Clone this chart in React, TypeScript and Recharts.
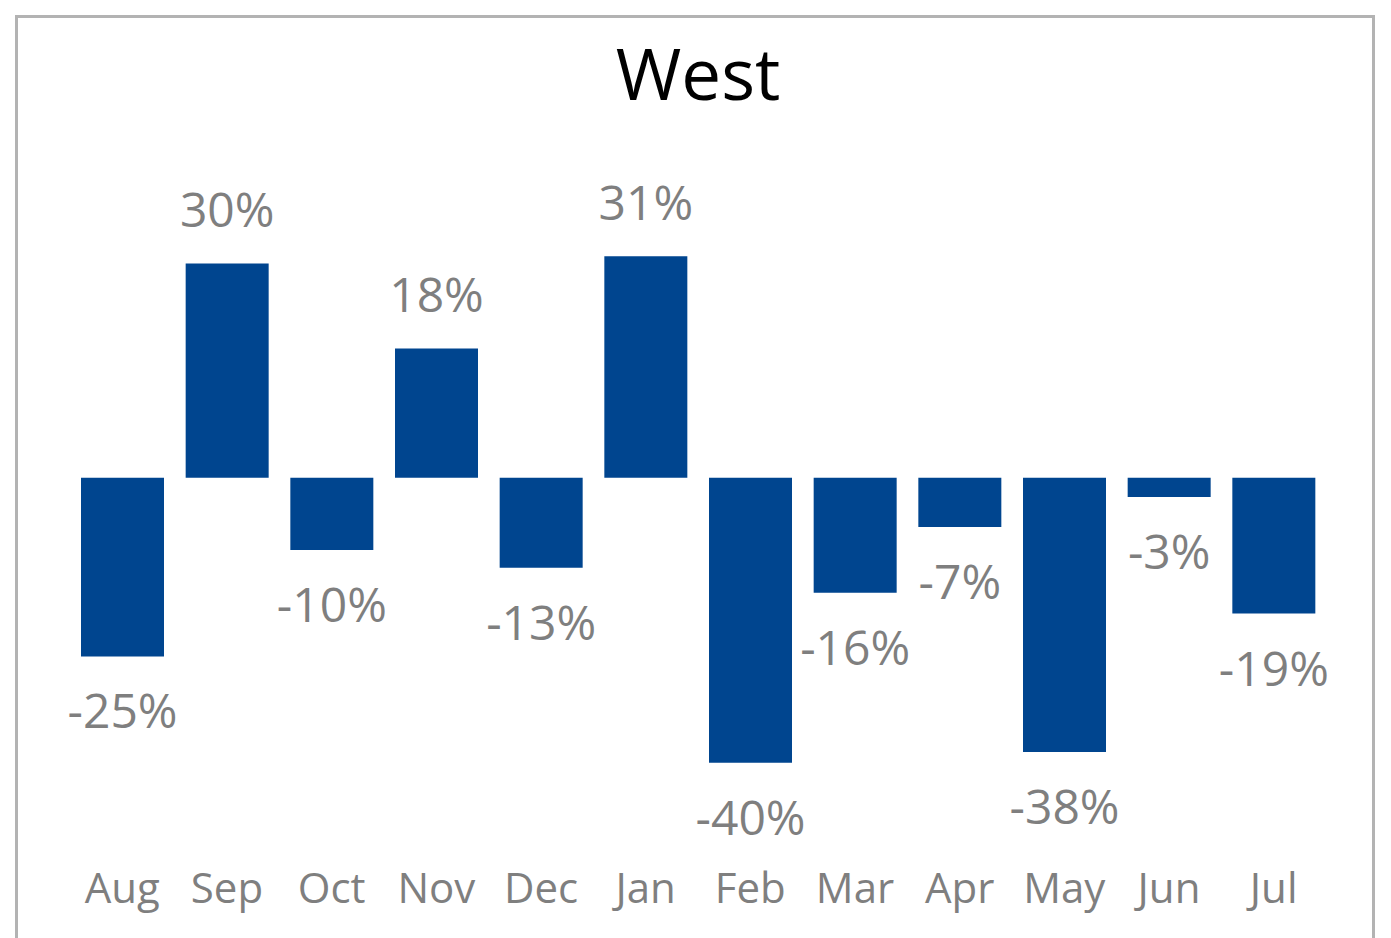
import React from "react";
import { BarChart, Bar, XAxis, YAxis, LabelList } from "recharts";

const months = ["Aug", "Sep", "Oct", "Nov", "Dec", "Jan", "Feb", "Mar", "Apr", "May", "Jun", "Jul"];
const changes = [-0.25, 0.3, -0.101, 0.181, -0.126, 0.31, -0.399, -0.161, -0.069, -0.384, -0.027, -0.19];
const title = "West";

const data = months.map((m, i) => ({ month: m, value: changes[i] }));

const FONT = "'Open Sans', 'Noto Sans', sans-serif";
const GRAY = "#7F7F7F";
const BLUE = "#00458F";

const ValueLabel = (props: any) => {
  const { x, y, width, height, value } = props;
  const top = Math.min(y, y + height);
  const bottom = Math.max(y, y + height);
  const cx = x + width / 2;
  const text = `${Math.round(value * 100)}%`;
  const baseline = value >= 0 ? top - 36 : bottom + 72;
  return (
    <text x={cx} y={baseline} textAnchor="middle" fontSize={48} fill={GRAY} fontFamily={FONT}>
      {text}
    </text>
  );
};

const MonthTick = (props: any) => {
  const { x, y, payload } = props;
  return (
    <text x={x} y={y + 68} textAnchor="middle" fontSize={42} fill={GRAY} fontFamily={FONT}>
      {payload.value}
    </text>
  );
};

export default function App() {
  return (
    <div style={{ position: "absolute", left: 0, top: 0, width: 1391, height: 938, overflow: "hidden", background: "#fff" }}>
      <div
        style={{
          position: "absolute",
          left: 15,
          top: 15,
          width: 1360,
          height: 1000,
          border: "3px solid #B3B3B3",
          boxSizing: "border-box",
        }}
      />
      <div style={{ position: "absolute", left: 0, top: 0 }}>
        <BarChart width={1391} height={938} data={data} margin={{ top: 192, right: 65, bottom: 0, left: 70 }}>
          <text x={698} y={100} textAnchor="middle" fontSize={71} fill="#000" fontFamily={FONT}>
            {title}
          </text>
          <YAxis hide domain={[-0.5, 0.4]} type="number" />
          <XAxis
            dataKey="month"
            axisLine={false}
            tickLine={false}
            tickSize={0}
            tickMargin={0}
            height={103}
            interval={0}
            tick={<MonthTick />}
          />
          <Bar dataKey="value" fill={BLUE} barSize={83} isAnimationActive={false}>
            <LabelList dataKey="value" content={<ValueLabel />} />
          </Bar>
        </BarChart>
      </div>
    </div>
  );
}
